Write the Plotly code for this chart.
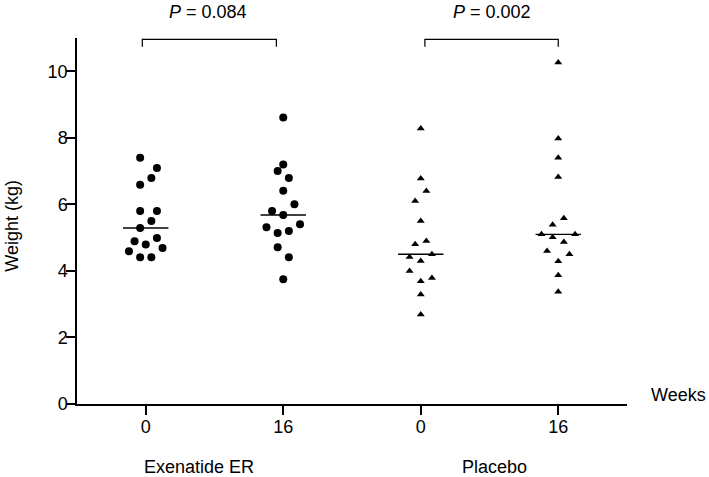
import numpy as np
import plotly.graph_objects as go

# body weight (kg) per animal
exenatide_wk0 = [7.40, 7.09, 6.79, 6.59, 5.80, 5.80, 5.50, 5.29, 4.99, 4.89, 4.79, 4.69, 4.59, 4.41, 4.41]
exenatide_wk16 = [8.61, 7.20, 7.00, 6.79, 6.41, 6.00, 5.80, 5.68, 5.40, 5.31, 5.20, 5.14, 4.71, 4.41, 3.75]
placebo_wk0 = [8.28, 6.78, 6.40, 6.10, 5.50, 4.90, 4.80, 4.50, 4.42, 4.30, 4.00, 3.79, 3.69, 3.29, 2.69]
placebo_wk16 = [10.26, 7.98, 7.40, 6.82, 5.58, 5.39, 5.10, 5.10, 5.01, 4.87, 4.60, 4.50, 4.29, 3.87, 3.37]

# scatter-dot column slot of each point (left/right of centre)
exenatide_wk0_slot = [-1, 2, 1, -1, -1, 2, 1, -1, 2, -2, 0, 3, -3, -1, 1]
exenatide_wk16_slot = [0, 0, -1, 1, 0, 2, -2, 0, 3, -3, 1, -1, -1, 1, 0]
placebo_wk0_slot = [0, 0, 1, -1, 0, 1, -1, 2, -2, 0, -2, 2, 0, 0, 0]
placebo_wk16_slot = [0, 0, 0, 0, 1, -1, -3, 3, -1, 1, -2, 2, 0, 0, 0]

week_labels = ["0", "16", "0", "16"]
group_names = ["Exenatide ER", "Placebo"]
p_values = ["0.084", "0.002"]

FONT = "Arial, Liberation Sans, sans-serif"
TXT = 18
SLOT = 0.0407
HALF_MEDIAN = 0.165

columns = [
    (1, exenatide_wk0, exenatide_wk0_slot, "circle", 8),
    (2, exenatide_wk16, exenatide_wk16_slot, "circle", 8),
    (3, placebo_wk0, placebo_wk0_slot, "triangle-up", 7),
    (4, placebo_wk16, placebo_wk16_slot, "triangle-up", 7),
]

fig = go.Figure()
for pos, values, slots, symbol, size in columns:
    xs = [pos + s * SLOT for s in slots]
    fig.add_trace(go.Scatter(
        x=xs, y=values, mode="markers",
        marker=dict(symbol=symbol, size=size, color="black", line=dict(width=0)),
        showlegend=False, cliponaxis=False,
    ))
    med = float(np.median(values))
    fig.add_trace(go.Scatter(
        x=[pos - HALF_MEDIAN, pos + HALF_MEDIAN], y=[med, med], mode="lines",
        line=dict(color="black", width=1.3), showlegend=False,
    ))


def label(text, x, y, xref="x", **kw):
    fig.add_annotation(
        x=x, y=y, xref=xref, yref="paper", text=text, showarrow=False,
        xanchor=kw.pop("xanchor", "center"), yanchor="middle",
        font=dict(family=FONT, size=TXT, color="black"), **kw,
    )


# significance brackets
brackets = [(0.975, 1.95), (3.03, 4.0)]
for (x0, x1), p, xc in zip(brackets, p_values, [1.451, 3.517]):
    fig.add_shape(
        type="path", xref="x", yref="y",
        path=f"M {x0},10.74 L {x0},10.96 L {x1},10.96 L {x1},10.74",
        line=dict(color="black", width=1.2),
    )
    label(f"<i>P</i> = {p}", xc, 1.071)

for name, xc in zip(group_names, [1.389, 3.535]):
    label(name, xc, -0.173)

label("Weeks", 1.0405, 0.0246, xref="paper", xanchor="left")
label("Weight (kg)", -0.1195, 0.4877, xref="paper", textangle=-90)

axis_style = dict(
    showline=True, linecolor="black", linewidth=1.5, showgrid=False, zeroline=False,
    ticks="outside", ticklen=9, tickwidth=1.5, tickcolor="black",
    tickfont=dict(family=FONT, size=TXT, color="black"),
)
fig.update_xaxes(range=[0.5, 4.5], tickvals=[1, 2, 3, 4], ticktext=week_labels,
                 ticklabelstandoff=-3, **axis_style)
fig.update_yaxes(range=[0, 11], tickvals=[0, 2, 4, 6, 8, 10],
                 ticklabelstandoff=-5, **axis_style)

fig.update_layout(
    width=709, height=477,
    margin=dict(l=77, r=82, t=38, b=73),
    plot_bgcolor="white", paper_bgcolor="white",
)

# drop the default 8px body margin so the figure sits flush with the window
fig.write_html(
    "out.html",
    config={"displayModeBar": False},
    post_script="document.body.style.margin = '0';",
)
